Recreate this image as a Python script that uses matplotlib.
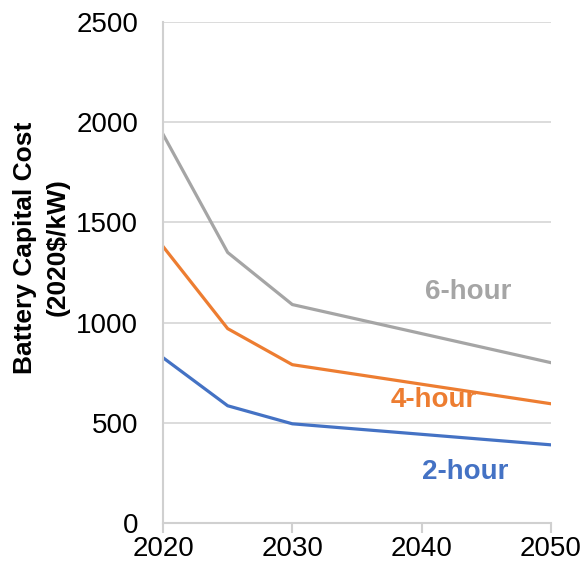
import numpy as np
from matplotlib import pyplot as plt

plt.rcParams['font.family'] = ['Liberation Sans', 'DejaVu Sans']

years = [2020, 2025, 2030, 2050]
cost_6h = [1940, 1350, 1090, 800]
cost_4h = [1380, 970, 790, 595]
cost_2h = [825, 585, 495, 390]

grey = '#a5a5a5'
orange = '#ed7d31'
blue = '#4472c4'

fig = plt.figure(figsize=(5.85, 5.73), dpi=100)
ax = fig.add_axes([163/585, 50/573, 388/585, 501/573])

ax.plot(years, cost_6h, color=grey, lw=2.3)
ax.plot(years, cost_4h, color=orange, lw=2.3)
ax.plot(years, cost_2h, color=blue, lw=2.3)

ax.text(2043.6, 1155, '6-hour', color=grey, fontsize=20, fontweight='bold', ha='center', va='center')
ax.text(2040.9, 615, '4-hour', color=orange, fontsize=20, fontweight='bold', ha='center', va='center')
ax.text(2043.4, 255, '2-hour', color=blue, fontsize=20, fontweight='bold', ha='center', va='center')

ax.set_xlim(2020, 2050)
ax.set_ylim(0, 2500)
ax.set_xticks([2020, 2030, 2040, 2050])
ax.set_yticks(np.arange(0, 2501, 500))
ax.grid(axis='y', color='#d9d9d9', lw=1.3)
ax.set_axisbelow(True)
for s in ['top', 'right']:
	ax.spines[s].set_visible(False)
for s in ['left', 'bottom']:
	ax.spines[s].set_color('#d0d0d0')
	ax.spines[s].set_linewidth(1.5)
ax.tick_params(axis='x', colors='#d0d0d0', length=7, width=1.5, labelcolor='black', labelsize=20, pad=2)
ax.tick_params(axis='y', length=0, labelsize=20, pad=18)
ax.set_ylabel('Battery Capital Cost\n(2020$/kW)', fontsize=19, fontweight='bold', linespacing=1.45)
ax.yaxis.set_label_coords(-0.24, 0.55)

plt.savefig('out.png', dpi=100)
